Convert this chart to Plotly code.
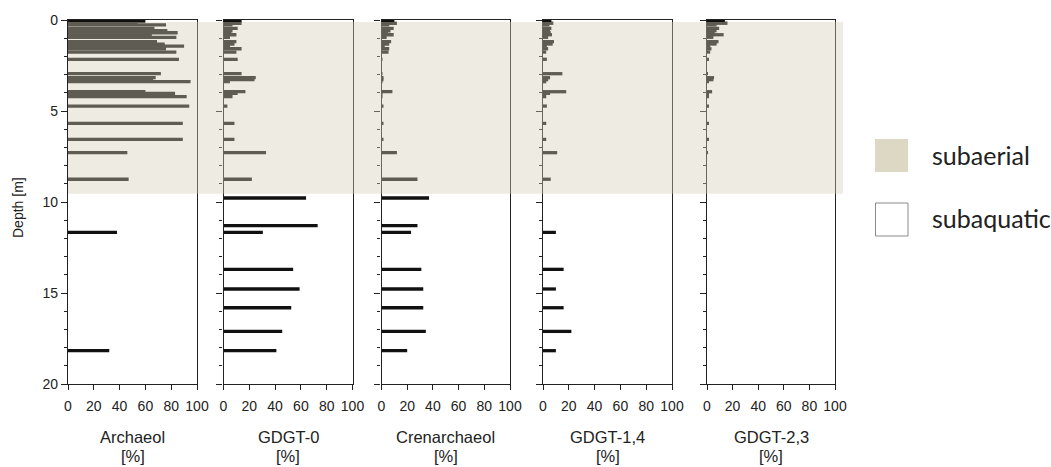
import plotly.graph_objects as go

W, H = 1051, 467

depths = [0.07, 0.18, 0.27, 0.46, 0.59, 0.70, 0.81, 0.95, 1.19, 1.32, 1.43, 1.58, 1.76,
          2.16, 2.95, 3.17, 3.28, 3.39, 3.94, 4.03, 4.21, 4.73, 5.68, 6.56, 7.29, 8.75,
          9.78, 11.30, 11.67, 13.70, 14.78, 15.81, 17.11, 18.17]

archaeol = [60, 54, 76, 67, 77, 85, 65, 84, 69, 75, 90, 76, 84,
            86, 72, 68, 66, 95, 60, 83, 92, 94, 89, 89, 46, 47,
            0, 0, 38, 0, 0, 0, 0, 32]
gdgt0 = [14, 14, 7, 11, 7, 6, 10, 5, 10, 8.5, 5, 14, 10,
         11, 14, 25, 24, 5, 17, 11, 7, 3, 8.5, 8.5, 33, 22,
         64, 73, 30.5, 54, 59, 52.5, 45.5, 41]
crenarchaeol = [10, 12, 6, 9.5, 7, 5, 9.5, 4, 7.5, 6, 2.5, 6, 5.5,
                0.5, 0.5, 1.5, 1.5, 0.5, 8.5, 0.5, 0.5, 1.5, 1.5, 1.5, 12, 28,
                37, 28, 23, 31, 32.5, 32.5, 34.5, 20]
gdgt14 = [6.5, 8, 5, 6.5, 5.5, 6, 7, 4, 8.5, 7.5, 3, 4, 2.5,
          3, 15, 5.5, 4, 2.5, 18, 5.5, 2.5, 3, 2.5, 2.5, 11, 6,
          0, 0, 10, 16, 10, 16, 22, 10]
gdgt23 = [14, 16, 7.5, 9.5, 7.5, 6, 13, 5, 9, 7.5, 2.5, 3.5, 2.5,
          1.5, 0.5, 5.5, 5, 1, 4, 1, 1, 1.5, 1, 1, 0.5, 0,
          0, 0, 0, 0, 0, 0, 0, 0]

series = [("Archaeol", archaeol), ("GDGT-0", gdgt0), ("Crenarchaeol", crenarchaeol),
          ("GDGT-1,4", gdgt14), ("GDGT-2,3", gdgt23)]
x_ticks = [0, 20, 40, 60, 80, 100]
y_ticks = [0, 5, 10, 15, 20]

subaerial_top, subaerial_bottom = 0.11, 9.55

# pixel layout
panel_px = [(68, 197), (223.5, 352.5), (381.5, 510), (543, 672), (707, 835)]
plot_top, plot_bot = 20, 384

def px(x):
    return x / W

def py(y):
    return 1 - y / H

AX = "#222222"
FONT = "Liberation Sans, Arial, sans-serif"

fig = go.Figure()
layout = dict(
    width=W, height=H,
    margin=dict(l=0, r=0, t=0, b=0, autoexpand=False),
    paper_bgcolor="white", plot_bgcolor="white",
    showlegend=False,
    font=dict(family=FONT, size=13, color=AX),
)

annotations = []
for i, (name, vals) in enumerate(series):
    k = "" if i == 0 else str(i + 1)
    fig.add_trace(go.Bar(
        x=vals, y=depths, orientation="h", width=0.18,
        marker=dict(color="#111111", line=dict(width=0)),
        xaxis="x" + k, yaxis="y" + k, hoverinfo="skip",
    ))
    x0, x1 = panel_px[i]
    layout["xaxis" + k] = dict(
        domain=[px(x0), px(x1)], range=[0, 100], anchor="y" + k,
        tickvals=x_ticks, ticktext=[str(t) for t in x_ticks],
        ticks="outside", ticklen=5, tickwidth=1.3, tickcolor=AX,
        ticklabelstandoff=4,
        showline=True, linecolor=AX, linewidth=1.3, mirror=True,
        showgrid=False, zeroline=False, automargin=False,
        tickfont=dict(family=FONT, size=14, color=AX),
        fixedrange=True,
    )
    layout["yaxis" + k] = dict(
        domain=[py(plot_bot), py(plot_top)], range=[20, 0], anchor="x" + k,
        tickvals=y_ticks, ticktext=[str(t) for t in y_ticks],
        showticklabels=(i == 0),
        ticks="outside", ticklen=6, tickwidth=1.3, tickcolor=AX,
        minor=dict(dtick=1, ticks="outside", ticklen=3, tickwidth=1.2, tickcolor=AX),
        showline=True, linecolor=AX, linewidth=1.3, mirror=True,
        showgrid=False, zeroline=False, automargin=False,
        tickfont=dict(family=FONT, size=14, color=AX),
        fixedrange=True,
    )
    cx = (x0 + x1) / 2
    annotations.append(dict(text=name, x=px(cx), y=py(437), xref="paper", yref="paper",
                            xanchor="center", yanchor="middle", showarrow=False,
                            font=dict(family=FONT, size=16.5, color=AX)))
    annotations.append(dict(text="[%]", x=px(cx), y=py(456), xref="paper", yref="paper",
                            xanchor="center", yanchor="middle", showarrow=False,
                            font=dict(family=FONT, size=16.5, color=AX)))

annotations.append(dict(text="Depth [m]", x=px(18), y=py(208), xref="paper", yref="paper",
                        xanchor="center", yanchor="middle", textangle=-90, showarrow=False,
                        font=dict(family=FONT, size=14, color=AX)))

LEG_FONT = "Lato, Open Sans, sans-serif"
annotations.append(dict(text="subaerial", x=px(930), y=py(155), xref="paper", yref="paper",
                        xanchor="left", yanchor="middle", showarrow=False,
                        font=dict(family=LEG_FONT, size=25, color="#222222")))
annotations.append(dict(text="subaquatic", x=px(930), y=py(218), xref="paper", yref="paper",
                        xanchor="left", yanchor="middle", showarrow=False,
                        font=dict(family=LEG_FONT, size=25, color="#222222")))

shapes = [
    # semi-transparent subaerial band across all panels
    dict(type="rect", xref="paper", yref="y", x0=px(68), x1=px(843),
         y0=subaerial_top, y1=subaerial_bottom,
         fillcolor="rgba(212,205,185,0.40)", line=dict(width=0), layer="above"),
    # legend boxes
    dict(type="rect", xref="paper", yref="paper", x0=px(875), x1=px(908),
         y0=py(172), y1=py(139), fillcolor="#DDD8C4", line=dict(width=0)),
    dict(type="rect", xref="paper", yref="paper", x0=px(875.5), x1=px(908),
         y0=py(236), y1=py(203), fillcolor="white", line=dict(width=1, color="#8a8a8a")),
]

layout["annotations"] = annotations
layout["shapes"] = shapes
fig.update_layout(**layout)
fig.write_html("out.html")
